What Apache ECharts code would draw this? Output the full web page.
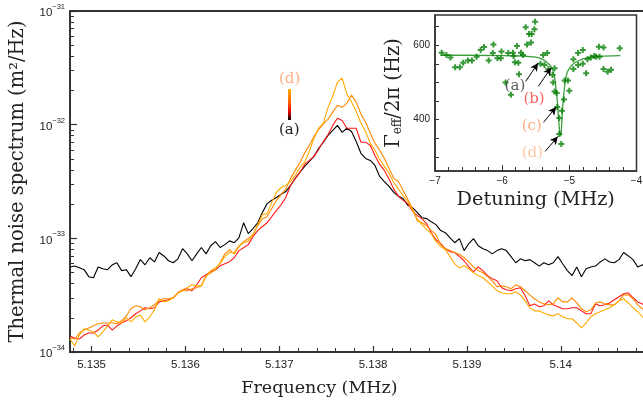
<!DOCTYPE html>
<html><head><meta charset="utf-8">
<script src="https://cdn.jsdelivr.net/npm/echarts@6/dist/echarts.min.js"></script>
<style>html,body{margin:0;padding:0;background:#fff}#c{width:643px;height:402px}</style>
</head><body><div id="c"></div>
<script>
// ---------- main plot data ----------
const frequencyMHz = [
5.13477,5.13482,5.13487,5.13492,5.13497,5.13502,5.13507,5.13512,5.13517,5.13522,
5.13527,5.13532,5.13537,5.13542,5.13547,5.13552,5.13557,5.13562,5.13567,5.13572,
5.13577,5.13582,5.13587,5.13592,5.13597,5.13602,5.13607,5.13612,5.13617,5.13622,
5.13627,5.13632,5.13637,5.13642,5.13647,5.13652,5.13657,5.13662,5.13667,5.13672,
5.13677,5.13682,5.13687,5.13692,5.13697,5.13702,5.13707,5.13712,5.13717,5.13722,
5.13727,5.13732,5.13737,5.13742,5.13747,5.13752,5.13757,5.13762,5.13767,5.13772,
5.13777,5.13782,5.13787,5.13792,5.13797,5.13802,5.13807,5.13812,5.13817,5.13822,
5.13827,5.13832,5.13837,5.13842,5.13847,5.13852,5.13857,5.13862,5.13867,5.13872,
5.13877,5.13882,5.13887,5.13892,5.13897,5.13902,5.13907,5.13912,5.13917,5.13922,
5.13927,5.13932,5.13937,5.13942,5.13947,5.13952,5.13957,5.13962,5.13967,5.13972,
5.13977,5.13982,5.13987,5.13992,5.13997,5.14002,5.14007,5.14012,5.14017,5.14022,
5.14027,5.14032,5.14037,5.14042,5.14047,5.14052,5.14057,5.14062,5.14067,5.14072,
5.14077,5.14082,5.14087,5.14092];
// spectra in units of 1e-34 m^2/Hz
const SPECTRUM_UNIT = 1e-34;
const spectrumA = [
5.6,5.7,5.5,5.3,4.6,4.5,5.6,5.4,5.3,5.85,
6.1,5.2,5.3,4.6,5.4,6.5,5.85,6.75,6.2,7.5,
7.0,6.35,6.1,6.6,8.1,7.3,6.35,7.3,8.3,7.3,
8.6,9.35,8.3,8.8,9.5,9.15,10.1,13.7,11.0,12.2,
13.7,16.9,20.2,21.6,22.9,24.4,25.8,29.2,33.7,38.0,
43.0,47.5,52.6,62,70,80.5,89,98.5,85.5,93,
87,71,56,50.5,48.5,43.8,35,31.6,28.6,25.4,
23.4,22.4,19.5,18.6,16.9,15.2,14.9,14.0,13.2,11.7,
11.2,10.1,9.15,9.95,7.8,9.0,9.95,8.6,8.1,7.8,
7.3,7.8,8.1,7.8,6.9,6.1,6.6,6.35,6.5,6.1,
5.7,6.1,5.85,6.1,6.9,5.97,5.2,4.7,5.6,4.6,
5.4,5.6,5.7,6.2,6.6,6.2,6.1,6.5,7.5,7.0,
6.5,5.6,5.85,5.3];
const spectrumB = [
1.38,1.33,1.30,1.41,1.47,1.47,1.56,1.70,1.73,1.56,
1.70,1.80,1.88,2.00,2.17,2.30,2.45,2.40,2.45,2.76,
2.82,2.88,3.00,3.32,3.53,3.60,3.46,3.90,4.50,4.78,
5.08,5.29,5.73,5.97,6.23,6.75,7.8,8.27,8.8,10.35,
11.7,12.7,13.7,15.5,17.6,19.8,22.9,29.2,33.7,38.0,
44.7,48.5,52.6,60.5,71,82,98.5,114,109,93,
93,93,70,70,65.7,53.5,44.7,39.6,33.2,27.1,
23.4,21.6,20.2,17.3,15.9,14.9,13.5,11.2,9.73,9.0,
8.1,7.63,7.5,6.9,6.35,5.6,5.08,5.6,5.2,4.7,
4.4,4.23,3.67,3.53,3.46,3.60,3.67,3.12,2.55,2.65,
2.50,2.55,2.82,2.60,2.50,2.40,2.40,2.45,2.45,2.30,
2.17,2.17,2.65,2.55,2.60,2.70,2.88,3.06,3.25,3.32,
3.00,2.76,2.65,2.40];
const spectrumC = [
1.33,1.30,1.47,1.56,1.63,1.70,1.77,1.80,1.80,1.80,
1.77,1.88,2.08,2.40,2.55,2.50,2.35,2.45,2.60,2.88,
2.94,2.94,3.00,3.32,3.46,3.46,3.60,3.67,3.82,4.68,
4.98,5.29,6.1,7.3,7.94,7.3,8.45,9.35,9.95,10.8,
12.95,14.9,15.5,18.3,21.6,24.4,27.1,33.7,39.6,46.5,
56,65.7,79,91,101,112,129,148,142,154,
182,158,124,105,84,68.5,59.5,50.5,41.2,33.7,
31.6,26.4,22.0,18.3,14.3,13.7,12.95,11.7,10.8,8.8,
8.1,7.8,7.5,7.2,6.75,6.2,5.6,5.2,4.98,4.6,
4.23,3.75,3.82,3.75,3.60,3.90,3.75,3.46,3.18,2.94,
2.76,2.65,2.60,2.65,3.00,2.76,2.76,3.00,2.70,2.40,
2.26,2.35,2.70,2.76,2.65,2.60,2.60,2.82,3.18,3.18,
2.94,2.60,2.40,2.20];
const spectrumD = [
1.30,1.13,1.41,1.60,1.56,1.50,1.36,1.50,1.70,1.92,
1.84,1.80,2.00,1.84,2.04,2.12,1.84,2.04,2.35,2.94,
2.76,2.82,3.00,3.32,3.53,3.67,3.90,3.82,3.82,4.6,
5.2,5.5,5.97,6.9,7.5,7.5,8.6,9.15,9.5,10.8,
13.2,16.2,16.5,20.7,25.4,28.0,29.2,31.6,35.8,42.0,
46.5,58.2,76,93,103,142,178,237,257,186,
158,131,103,87,68.5,59.5,49.5,43,37.3,31.0,
27.1,23.8,21.1,17.6,14.9,13.2,12.0,11.0,9.35,8.45,
7.94,6.9,5.97,5.5,5.73,5.4,4.98,4.7,4.5,4.15,
3.82,3.46,3.32,3.25,3.25,3.39,3.18,2.82,2.45,2.30,
2.30,2.20,2.12,2.08,2.17,2.04,1.96,1.96,1.80,1.63,
1.80,2.04,2.17,2.26,2.35,2.45,2.60,2.82,2.94,2.70,
2.45,2.26,2.04,1.84];
const traceNames = ['(a)','(b)','(c)','(d)'];
const xMajorTicks = [5.135,5.136,5.137,5.138,5.139,5.140];
const xMinorTicks = [5.1348,5.1352,5.1354,5.1356,5.1358,5.1362,5.1364,5.1366,5.1368,5.1372,5.1374,5.1376,5.1378,
  5.1382,5.1384,5.1386,5.1388,5.1392,5.1394,5.1396,5.1398,5.1402,5.1404,5.1406,5.1408];
const yDecadeExponents = [-34,-33,-32,-31];
const yMinorTicks = [2e-34,3e-34,4e-34,5e-34,6e-34,7e-34,8e-34,9e-34,
  2e-33,3e-33,4e-33,5e-33,6e-33,7e-33,8e-33,9e-33,
  2e-32,3e-32,4e-32,5e-32,6e-32,7e-32,8e-32,9e-32];

// ---------- inset data ----------
const detuningMHz = [-6.90,-6.83,-6.77,-6.70,-6.63,-6.58,-6.51,-6.45,-6.38,-6.32,-6.27,-6.20,-6.14,-6.13,-6.07,-6.02,-6.01,
  -5.95,-5.91,-5.87,-5.84,-5.83,-5.81,-5.78,-5.76,-5.75,-5.72,-5.69,-5.65,-5.63,-5.60,-5.56,-5.57,-5.52,-5.51,
  -5.43,-5.39,-5.37,-5.33,-5.31,-5.25,-5.24,-5.22,-5.22,-5.19,-5.18,-5.15,-5.15,-5.12,-5.11,-5.08,-5.07,-5.02,-5.00,
  -4.94,-4.94,-4.87,-4.87,-4.80,-4.80,-4.75,-4.73,-4.68,-4.63,-4.60,-4.56,-4.55,-4.49,-4.49,-4.43,-4.38,-4.25];
const gammaEffHz = [580,574,567,541,541,553,559,559,569,587,595,559,579,602,565,565,583,
  500,579,467,580,571,554,598,553,522,580,574,648,602,630,630,607,643,663,
  550,574,547,579,536,520,500,538,476,472,434,405,362,335,424,454,505,505,478,
  562,536,579,547,587,550,525,562,567,571,569,596,569,594,536,529,534,592];
const fitDetuningMHz = [-6.92,-6.5,-6.0,-5.7,-5.5,-5.45,-5.4,-5.36,-5.33,-5.30,-5.28,-5.26,-5.24,-5.22,-5.21,-5.20,-5.19,
  -5.18,-5.17,-5.16,-5.15,-5.14,-5.13,-5.12,-5.11,-5.10,-5.09,-5.08,-5.07,-5.06,-5.05,-5.03,-5.00,-4.96,-4.92,-4.88,-4.79,-4.6,-4.24];
const fitGammaHz = [573,573,572,571,568,566,562,558,553,549,545,539,530,515,502,486,470,
  452,428,402,378,362,356,366,400,432,455,472,490,505,515,528,538,547,553,557,564,570,572];
const insetYTicks = [300,350,400,450,500,550,600,650];
const insetYLabels = [400,600];
const arrowTails = [[-5.65,503],[-5.46,490],[-5.385,393],[-5.36,315]];
const arrowHeads = [[-5.465,552],[-5.27,540],[-5.195,434],[-5.17,355]];
const insetLabelPos = [[-5.81,491],[-5.525,456],[-5.56,382],[-5.55,311]];

// ---------- styles ----------
const serif = '"DejaVu Serif", serif';
const sans = '"Liberation Sans", Arial, sans-serif';
const frame = '#333';
const traceColors = ['#000000','#ff1a1a','#ff8a00','#ffaa00'];
const insetLabelColors = ['#333333','#ff3a3a','#ff9a5a','#ffb88e'];

const chart = echarts.init(document.getElementById('c'), null, {renderer:'canvas'});
const spectra = [spectrumA, spectrumB, spectrumC, spectrumD];
const mainSeries = spectra.map((s, k) => ({
  name: traceNames[k], type:'line', xAxisIndex:0, yAxisIndex:0,
  data: frequencyMHz.map((f,i)=>[f, s[i]*SPECTRUM_UNIT]),
  showSymbol:false, symbol:'none', clip:true,
  lineStyle:{color:traceColors[k], width:1.1}, z:2
}));
// hidden linear axis in log10 space, used only to place the ticks of the log axis
const yMinorTickExp = yMinorTicks.map(v => Math.log10(v));
const decadeLabel = v => {
  const e = v < 0 ? Math.round(v) : Math.round(Math.log10(v));
  return '{b|10}{s|\u2212' + Math.abs(e) + '}';
};

const option = {
  animation:false,
  backgroundColor:'#fff',
  grid:[
    {left:70, top:11, right:-6, bottom:50, show:true, borderColor:frame, borderWidth:1.8,
     backgroundColor:'transparent', outerBoundsMode:'none', containLabel:false},
    {left:435, top:15, width:201.5, height:156, show:true, borderColor:frame, borderWidth:1.5,
     backgroundColor:'#fff', z:5, outerBoundsMode:'none', containLabel:false}
  ],
  xAxis:[
    {gridIndex:0, type:'value', min:5.13477, max:5.14094, position:'bottom',
     axisLine:{show:true, onZero:false, lineStyle:{color:frame, width:1.8}},
     axisTick:{show:true, inside:true, length:6, customValues:xMajorTicks, lineStyle:{color:frame, width:1.2}},
     axisLabel:{show:true, customValues:xMajorTicks, formatter:v=>String(parseFloat(Number(v).toFixed(3))),
       fontFamily:sans, fontSize:11.5, color:'#222', margin:7},
     splitLine:{show:false},
     name:'Frequency (MHz)', nameLocation:'middle', nameGap:27,
     nameTextStyle:{fontFamily:serif, fontSize:17.5, color:'#222', padding:[0,80,0,0]}},
    {gridIndex:0, type:'value', min:5.13477, max:5.14094, position:'bottom',
     axisLine:{show:false}, axisLabel:{show:false}, splitLine:{show:false},
     axisTick:{show:true, inside:true, length:4, customValues:xMinorTicks, lineStyle:{color:frame, width:1}}},
    {gridIndex:1, type:'value', min:-7, max:-4, interval:1, position:'bottom', z:7,
     axisLine:{show:true, onZero:false, lineStyle:{color:frame, width:1.5}},
     axisTick:{show:true, inside:true, length:6, lineStyle:{color:frame, width:1}},
     minorTick:{show:true, splitNumber:5, length:4, lineStyle:{color:frame, width:1}},
     axisLabel:{fontFamily:sans, fontSize:10, color:'#222', margin:5,
       formatter:v=> v<0 ? '\u2212'+Math.abs(v) : String(v)},
     splitLine:{show:false}, minorSplitLine:{show:false},
     name:'Detuning (MHz)', nameLocation:'middle', nameGap:19,
     nameTextStyle:{fontFamily:serif, fontSize:19.3, color:'#222'}}
  ],
  yAxis:[
    {gridIndex:0, type:'log', logBase:10, min:1e-34, max:1e-31, position:'left',
     axisLine:{show:true, onZero:false, lineStyle:{color:frame, width:1.8}},
     axisTick:{show:false},
     axisLabel:{show:false},
     splitLine:{show:false}, minorTick:{show:false},
     name:'Thermal noise spectrum (m\u00b2/Hz)', nameLocation:'middle', nameGap:42,
     nameTextStyle:{fontFamily:serif, fontSize:19.5, color:'#222'}},
    {gridIndex:0, type:'value', min:yDecadeExponents[0], max:yDecadeExponents[3], interval:1, position:'left',
     axisLine:{show:false}, splitLine:{show:false},
     axisTick:{show:true, inside:true, length:7, lineStyle:{color:frame, width:1.2}},
     minorTick:{show:false},
     axisLabel:{show:true, margin:5, formatter:decadeLabel,
       rich:{b:{fontFamily:sans, fontSize:11.5, color:'#222', lineHeight:16, verticalAlign:'bottom'},
             s:{fontFamily:sans, fontSize:7.5, color:'#222', verticalAlign:'top', lineHeight:16, padding:[0,0,6,0]}}}},
    {gridIndex:0, type:'value', min:yDecadeExponents[0], max:yDecadeExponents[3], position:'left',
     axisLine:{show:false}, axisLabel:{show:false}, splitLine:{show:false},
     axisTick:{show:true, inside:true, length:4, customValues:yMinorTickExp, lineStyle:{color:frame, width:1}}},
    {gridIndex:1, type:'value', min:262.5, max:681, position:'left', z:7,
     axisLine:{show:true, onZero:false, lineStyle:{color:frame, width:1.5}},
     axisTick:{show:true, inside:true, length:4, customValues:insetYTicks, lineStyle:{color:frame, width:1}},
     axisLabel:{show:true, customValues:insetYLabels, fontFamily:sans, fontSize:10, color:'#222', margin:5},
     splitLine:{show:false},
     name:'{g|\u0393}{s|eff}{g|/2\u03c0 (Hz)}', nameLocation:'middle', nameGap:31,
     nameTextStyle:{rich:{g:{fontFamily:serif, fontSize:19.5, color:'#222'},
                          s:{fontFamily:serif, fontSize:12, color:'#222', verticalAlign:'bottom', padding:[6,0,0,0]}}}}
  ],
  series:[
    ...mainSeries,
    {type:'line', xAxisIndex:2, yAxisIndex:3, z:6,
     data:fitDetuningMHz.map((x,i)=>[x, fitGammaHz[i]]),
     showSymbol:false, symbol:'none', lineStyle:{color:'#3f9f3f', width:1.3},
     markLine:{silent:true, z:9, symbol:['none','arrow'], symbolSize:[6,8], animation:false,
       lineStyle:{color:'#000', width:1, type:'solid'}, label:{show:false},
       data:arrowTails.map((t,i)=>[{coord:t},{coord:arrowHeads[i]}])}},
    {type:'scatter', xAxisIndex:2, yAxisIndex:3, z:6,
     data:detuningMHz.map((x,i)=>[x, gammaEffHz[i]]),
     symbol:'path://M1,0H2V1H3V2H2V3H1V2H0V1H1Z', symbolSize:6,
     itemStyle:{color:'#068006'}},
    {type:'scatter', xAxisIndex:2, yAxisIndex:3, z:8, symbolSize:1,
     itemStyle:{color:'rgba(0,0,0,0)'},
     data:insetLabelPos.map((p,i)=>({value:p, label:{color:insetLabelColors[i]}})),
     label:{show:true, position:'inside', fontFamily:serif, fontSize:15,
       formatter:p=>traceNames[p.dataIndex]}}
  ],
  graphic:[
    {type:'rect', left:288, top:89, z:10, shape:{width:3, height:31},
     style:{fill:{type:'linear', x:0, y:0, x2:0, y2:1, colorStops:[
       {offset:0, color:'#ffb000'},{offset:0.45, color:'#ff5a00'},{offset:0.75, color:'#e00000'},{offset:1, color:'#000'}]}}},
    {type:'text', left:279, top:72, z:10, style:{text:'(d)', font:'15px "DejaVu Serif", serif', fill:'#ffae80'}},
    {type:'text', left:279, top:123, z:10, style:{text:'(a)', font:'15px "DejaVu Serif", serif', fill:'#222'}}
  ]
};
chart.setOption(option);
</script>
</body></html>
